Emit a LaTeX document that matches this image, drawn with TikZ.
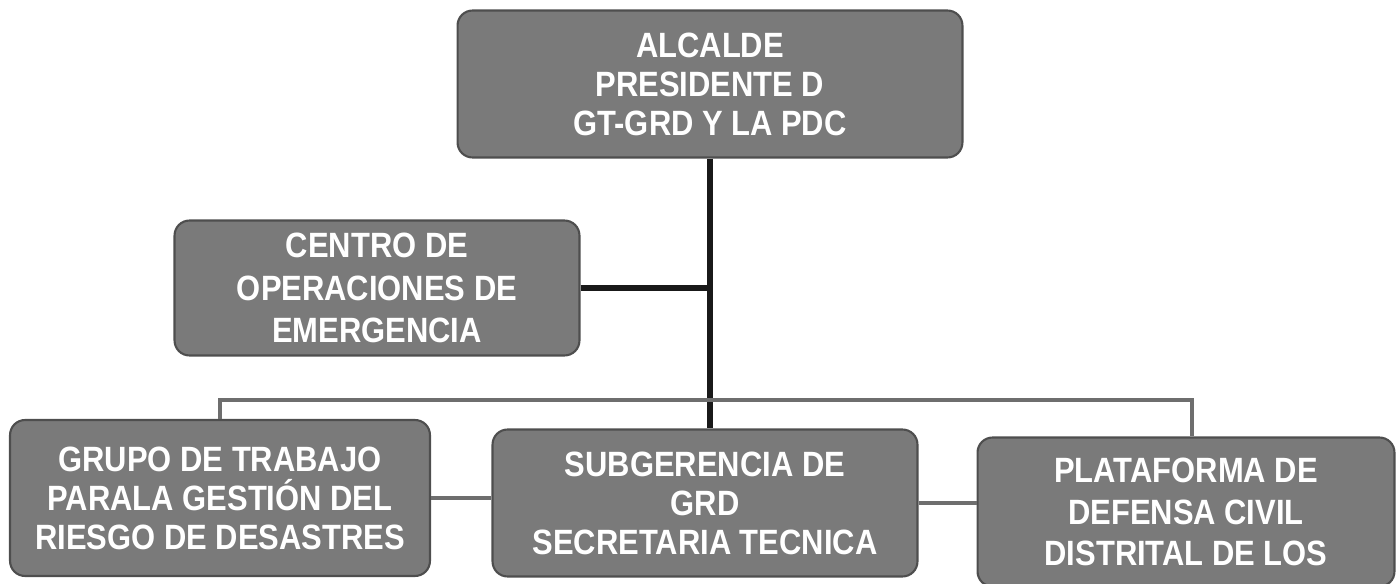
\documentclass[tikz,border=0pt]{standalone}
\usepackage{fontspec}
\setmainfont{Liberation Sans}[FakeStretch=0.88]
\definecolor{boxgray}{HTML}{7A7A7A}
\definecolor{boxedge}{HTML}{4E4E4E}
\definecolor{linegray}{HTML}{6E6E6E}

\begin{document}
\begin{tikzpicture}[x=0.02cm,y=-0.02cm,
  org/.style={draw=boxedge,line width=1.2pt,fill=boxgray,rounded corners=0.3cm,
    text=white,font=\bfseries\fontsize{20}{22.2}\selectfont,align=center,inner sep=2pt},
  blk/.style={draw=black!90,line width=3.4pt},
  gry/.style={draw=linegray,line width=2.8pt}]
  \useasboundingbox (0,0) rectangle (1399,584);
  \node (alcalde) at (710,84) [org,minimum width=10.1cm,minimum height=2.94cm] {ALCALDE\\PRESIDENTE D\\GT-GRD Y LA PDC};
  \node (coe) at (377,288) [org,minimum width=8.1cm,minimum height=2.7cm,font=\bfseries\fontsize{20}{24}\selectfont] {CENTRO DE\\OPERACIONES DE\\EMERGENCIA};
  \node (grupo) at (220,498) [org,minimum width=8.4cm,minimum height=3.12cm] {GRUPO DE TRABAJO\\PARALA GESTIÓN DEL\\RIESGO DE DESASTRES};
  \node (subg) at (705,503) [org,minimum width=8.5cm,minimum height=2.94cm] {SUBGERENCIA DE\\GRD\\SECRETARIA TECNICA};
  \node (plat) at (1186,512) [org,minimum width=8.34cm,minimum height=2.98cm,font=\bfseries\fontsize{20}{23.5}\selectfont] {PLATAFORMA DE\\DEFENSA CIVIL\\DISTRITAL DE LOS};
  \coordinate (busl) at (220,400);
  \coordinate (busr) at (1192,400);
  \draw[blk] (alcalde.south) -- (alcalde.south |- subg.north);
  \draw[blk] (coe.east) -- (coe.east -| alcalde.south);
  \draw[gry] (grupo.north -| busl) -- (busl) -- (busr) -- (plat.north -| busr);
  \draw[gry] (grupo.east) -- (grupo.east -| subg.west);
  \draw[gry] (subg.east) -- (subg.east -| plat.west);
\end{tikzpicture}
\end{document}
